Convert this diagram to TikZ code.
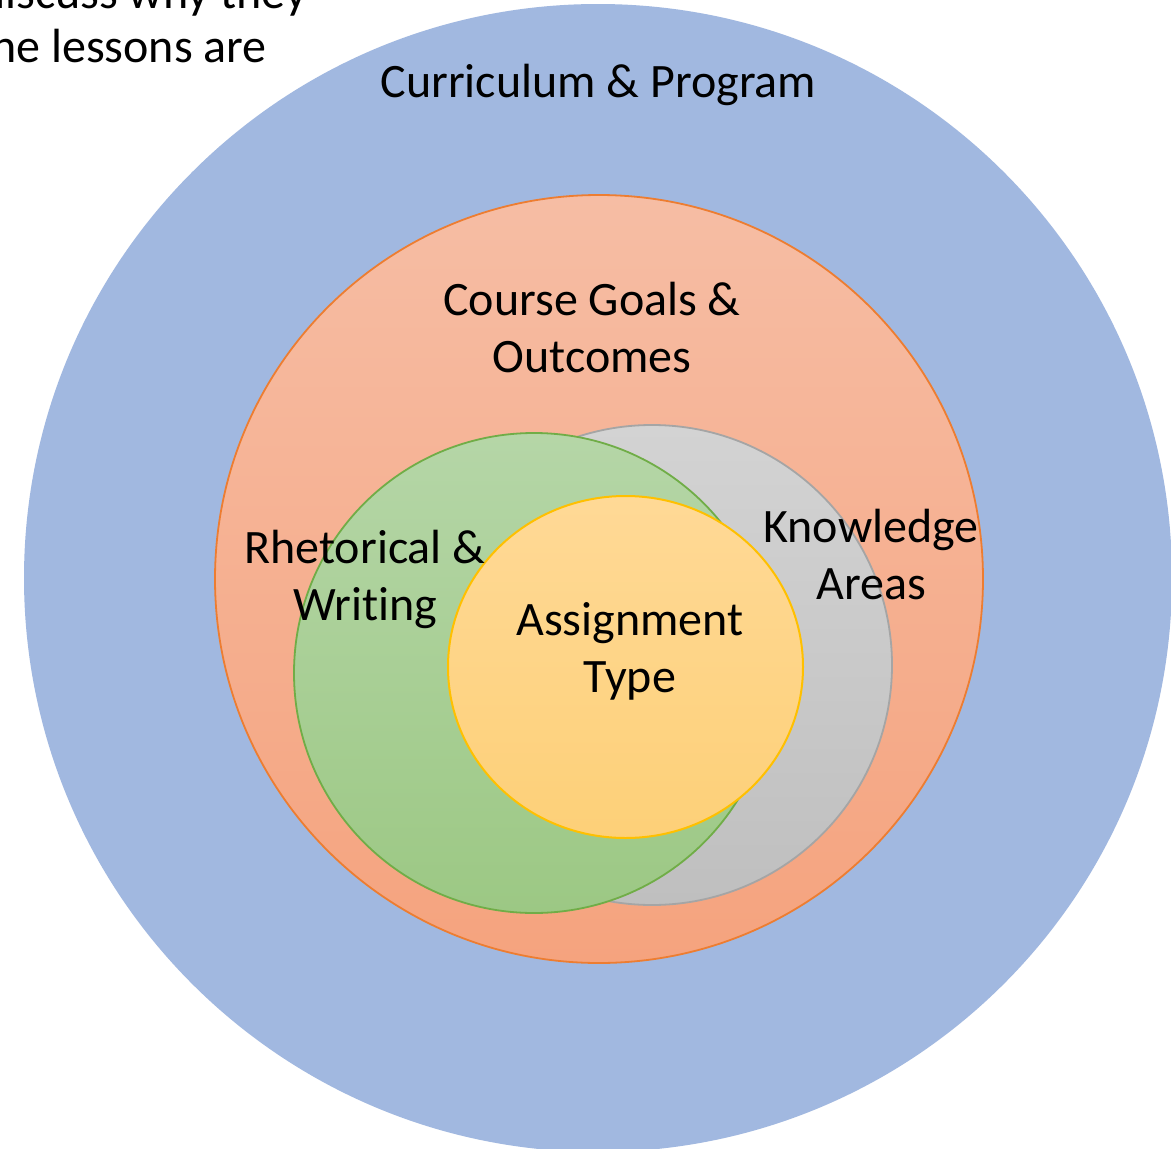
\documentclass[tikz,border=0pt]{standalone}
\usepackage{fontspec}
\setmainfont[Ligatures={NoCommon}]{Carlito}
\definecolor{blueC}{HTML}{A1B8E0}
\definecolor{orTop}{HTML}{F6BDA4}
\definecolor{orBot}{HTML}{F5A37E}
\definecolor{orLine}{HTML}{ED7D31}
\definecolor{grTop}{HTML}{D3D3D3}
\definecolor{grBot}{HTML}{BFBFBF}
\definecolor{grLine}{HTML}{A5A5A5}
\definecolor{gnTop}{HTML}{B5D6A7}
\definecolor{gnBot}{HTML}{9CC884}
\definecolor{gnLine}{HTML}{70AD47}
\definecolor{ylTop}{HTML}{FFD996}
\definecolor{ylBot}{HTML}{FDD078}
\definecolor{ylLine}{HTML}{FFC000}
\tikzset{
  lbl/.style={font=\fontsize{48}{57}\selectfont, align=center, inner sep=0pt, text=black},
}
\begin{document}
\begin{tikzpicture}[x=1pt,y=-1pt]
\useasboundingbox (0,0) rectangle (1171,1149);
\clip (0,0) rectangle (1171,1149);
\fill[white] (0,0) rectangle (1171,1149);
% curriculum
\fill[blueC] (598,578) circle[radius=574];
% course goals
\shade[top color=orTop, bottom color=orBot, draw=orLine, line width=1.8pt] (599,579) circle[radius=384];
% knowledge
\shade[top color=grTop, bottom color=grBot, draw=grLine, line width=1.8pt] (652,665) circle[radius=240];
% rhetorical
\shade[top color=gnTop, bottom color=gnBot, draw=gnLine, line width=1.8pt] (534,673) circle[radius=240];
% assignment
\shade[top color=ylTop, bottom color=ylBot, draw=ylLine, line width=2pt] (625.5,667) ellipse[x radius=177.5, y radius=171];
% labels
\node[lbl, anchor=base east] (t1) at (307,8) {discuss why they};
\node[lbl, anchor=base east] (t2) at (267,62) {the lessons are};
\node[lbl, anchor=base] (cur) at (598.5,97) {Curriculum \& Program};
\node[lbl, anchor=base] (cg1) at (592,315) {Course Goals \&};
\node[lbl, anchor=base] (cg2) at (592,372) {Outcomes};
\node[lbl, anchor=base] (rw1) at (365,563) {Rhetorical \&};
\node[lbl, anchor=base] (rw2) at (365,620) {Writing};
\node[lbl, anchor=base] (ka1) at (871,542) {Knowledge};
\node[lbl, anchor=base] (ka2) at (871,599) {Areas};
\node[lbl, anchor=base] (as1) at (630,635) {Assignment};
\node[lbl, anchor=base] (as2) at (630,692) {Type};
\end{tikzpicture}
\end{document}
